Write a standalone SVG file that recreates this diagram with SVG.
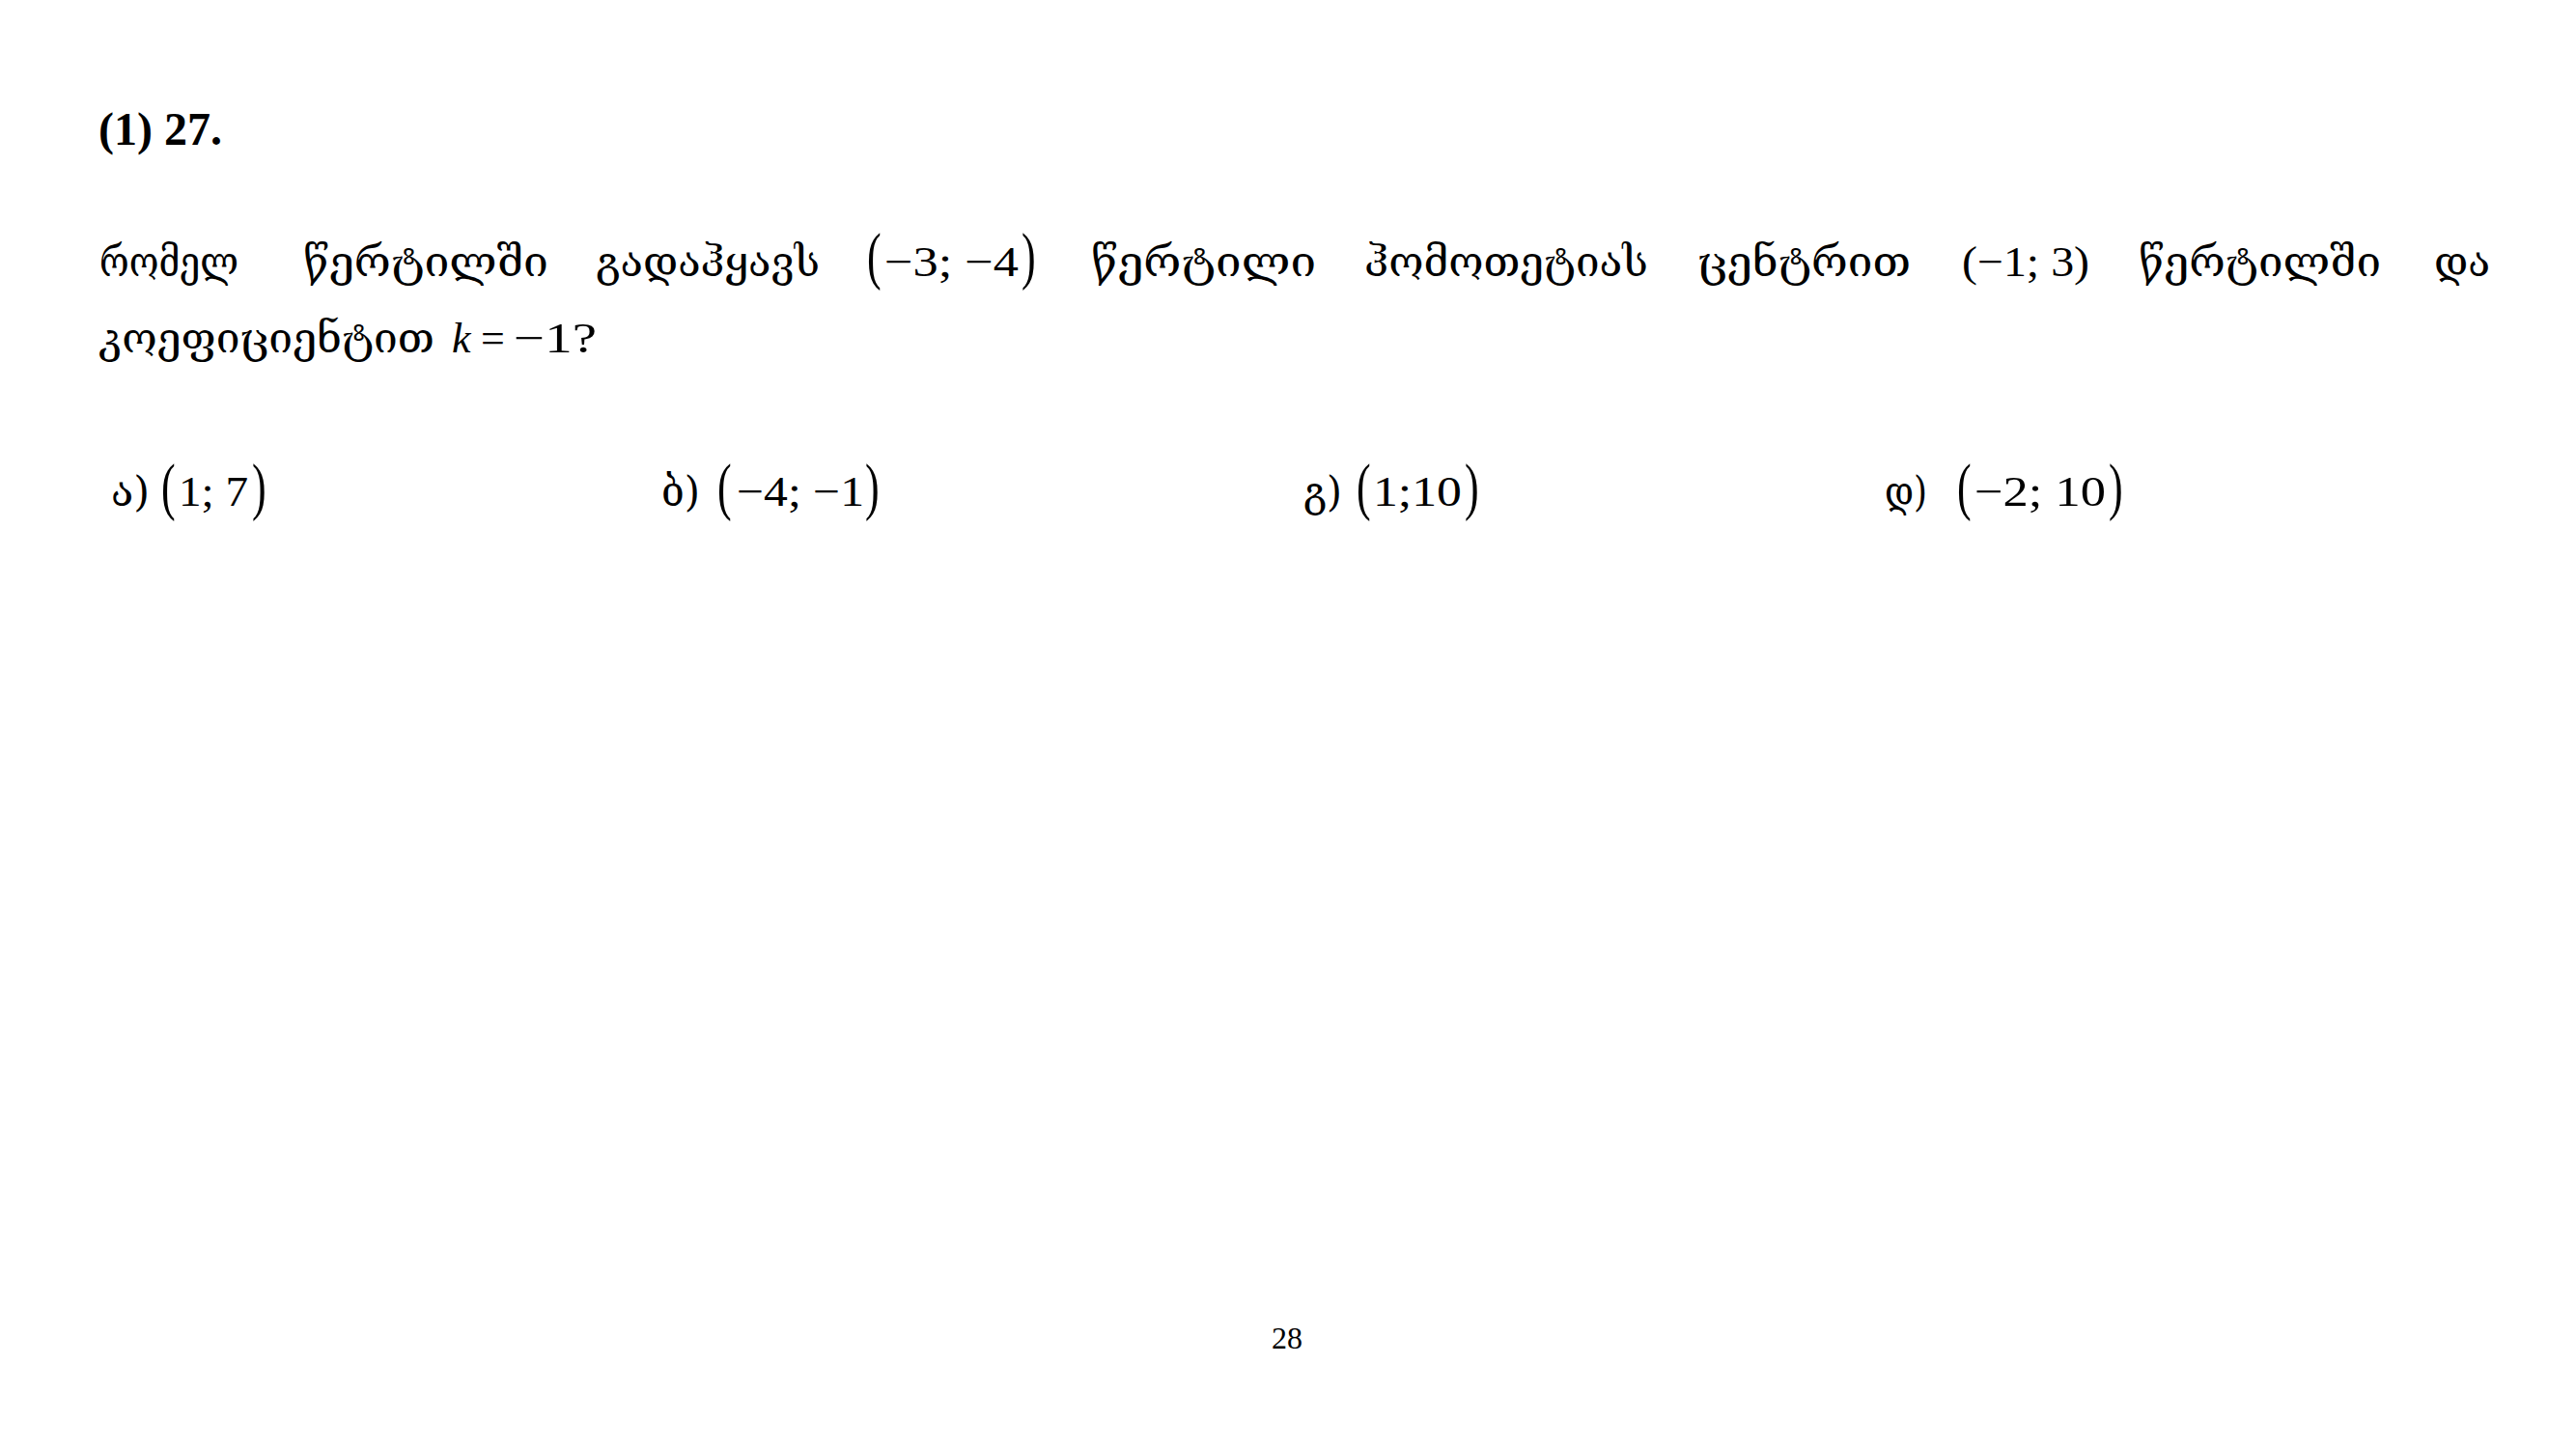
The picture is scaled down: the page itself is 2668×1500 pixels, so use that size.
<svg xmlns="http://www.w3.org/2000/svg" width="2668" height="1500" viewBox="0 0 2668 1500">
<style>
  text { fill: #000; }
  .geo { font-family: "DejaVu Serif", "DejaVu Sans", serif; font-size: 43px; }
  .m { font-family: "Liberation Serif", "Times New Roman", serif; font-size: 44px; }
  .mi { font-family: "Liberation Serif", "Times New Roman", serif; font-size: 44px; font-style: italic; }
  .hd { font-family: "Liberation Serif", "Times New Roman", serif; font-size: 48px; font-weight: bold; }
  .pg { font-family: "Liberation Serif", "Times New Roman", serif; font-size: 32px; }
</style>
<rect x="0" y="0" width="2668" height="1500" fill="#ffffff"/>

<g id="header">
  <text class="hd" x="102" y="150">(1) 27.</text>
</g>

<g id="question-line1">
  <text class="geo" x="103" y="286" textLength="144" lengthAdjust="spacingAndGlyphs">რომელ</text>
  <text class="geo" x="314" y="286" textLength="254" lengthAdjust="spacingAndGlyphs">წერტილში</text>
  <text class="geo" x="617" y="286" textLength="232" lengthAdjust="spacingAndGlyphs">გადაჰყავს</text>
  <text class="m" transform="translate(898,287) scale(1,1.5)">(</text>
  <text class="m" x="916" y="286" textLength="139" lengthAdjust="spacingAndGlyphs">−3; −4</text>
  <text class="m" transform="translate(1058,287) scale(1,1.5)">)</text>
  <text class="geo" x="1130" y="286" textLength="233" lengthAdjust="spacingAndGlyphs">წერტილი</text>
  <text class="geo" x="1413" y="286" textLength="294" lengthAdjust="spacingAndGlyphs">ჰომოთეტიას</text>
  <text class="geo" x="1758" y="286" textLength="221" lengthAdjust="spacingAndGlyphs">ცენტრით</text>
  <text class="m" x="2032" y="286" textLength="132" lengthAdjust="spacingAndGlyphs">(−1; 3)</text>
  <text class="geo" x="2215" y="286" textLength="251" lengthAdjust="spacingAndGlyphs">წერტილში</text>
  <text class="geo" x="2521" y="286" textLength="58" lengthAdjust="spacingAndGlyphs">და</text>
</g>

<g id="question-line2">
  <text class="geo" x="102" y="365" textLength="348" lengthAdjust="spacingAndGlyphs">კოეფიციენტით</text>
  <text class="mi" x="468" y="365">k</text>
  <text class="m" x="498" y="365">=</text>
  <text class="m" x="532" y="365" textLength="86" lengthAdjust="spacingAndGlyphs">−1?</text>
</g>

<g id="option-a">
  <text class="geo" x="115" y="524" textLength="40" lengthAdjust="spacingAndGlyphs">ა)</text>
  <text class="m" transform="translate(167,526) scale(1,1.5)">(</text>
  <text class="m" x="185" y="524" textLength="72" lengthAdjust="spacingAndGlyphs">1; 7</text>
  <text class="m" transform="translate(261,526) scale(1,1.5)">)</text>
</g>

<g id="option-b">
  <text class="geo" x="685" y="524" textLength="40" lengthAdjust="spacingAndGlyphs">ბ)</text>
  <text class="m" transform="translate(743,526) scale(1,1.5)">(</text>
  <text class="m" x="763" y="524" textLength="132" lengthAdjust="spacingAndGlyphs">−4; −1</text>
  <text class="m" transform="translate(896,526) scale(1,1.5)">)</text>
</g>

<g id="option-c">
  <text class="geo" x="1350" y="524" textLength="40" lengthAdjust="spacingAndGlyphs">გ)</text>
  <text class="m" transform="translate(1405,526) scale(1,1.5)">(</text>
  <text class="m" x="1422" y="524" textLength="92" lengthAdjust="spacingAndGlyphs">1;10</text>
  <text class="m" transform="translate(1517,526) scale(1,1.5)">)</text>
</g>

<g id="option-d">
  <text class="geo" x="1952" y="524" textLength="44" lengthAdjust="spacingAndGlyphs">დ)</text>
  <text class="m" transform="translate(2027,526) scale(1,1.5)">(</text>
  <text class="m" x="2045" y="524" textLength="136" lengthAdjust="spacingAndGlyphs">−2; 10</text>
  <text class="m" transform="translate(2184,526) scale(1,1.5)">)</text>
</g>

<g id="connectors"></g>

<g id="page-number">
  <text class="pg" x="1333" y="1397" text-anchor="middle">28</text>
</g>
</svg>
